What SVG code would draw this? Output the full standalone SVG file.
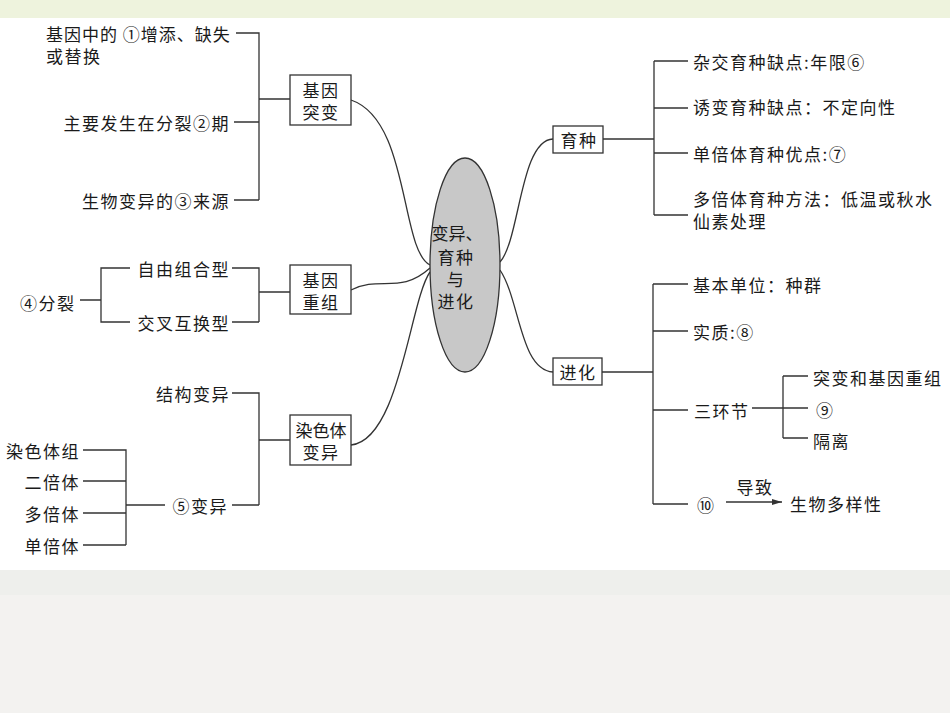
<svg xmlns="http://www.w3.org/2000/svg" width="950" height="713" viewBox="0 0 950 713">
<style>
text{font-family:"Noto Sans CJK SC","Liberation Sans",sans-serif;font-size:17px;letter-spacing:1.5px;fill:#1a1a1a;dominant-baseline:central}
.e{text-anchor:end}.m{text-anchor:middle}
.l{fill:none;stroke:#333;stroke-width:1.3}
.b{fill:#fff;stroke:#333;stroke-width:1.3}
</style>
<defs><marker id="a" viewBox="0 0 10 10" refX="10" refY="5" markerWidth="8" markerHeight="8" orient="auto"><path d="M0,2 L10,5 L0,8 z" fill="#333"/></marker></defs>
<rect width="950" height="713" fill="#fff"/>
<rect width="950" height="18" fill="#eef3dd"/>
<rect y="570" width="950" height="143" fill="#f3f2f0"/>
<rect y="570" width="950" height="25" fill="#eeefec"/>
<g id="connectors" class="l">
<path d="M236,33H259V200M234,122H259M234,200H259M259,99H290"/>
<path d="M232,268H259V322M232,322H259M259,292H290M130,268H101V322H130M80,300H101"/>
<path d="M232,393H259V505M232,505H259M259,440H291M83,450H126V545M83,481H126M83,513H126M83,545H126M126,505H165"/>
<path d="M351,100C410,120 400,250 430,265M351,290C380,275 400,295 430,268M351,445C400,440 410,300 430,272"/>
<path d="M500,262C520,240 520,140 553,139M500,270C520,300 520,370 553,372"/>
<path d="M603,139H654M654,61V215M654,61H688M654,108H688M654,153H688M654,215H688"/>
<path d="M602,372H653M653,284V504M653,284H688M653,331H688M653,410H688M653,504H688M752,408H808M783,376V438M783,376H808M783,438H808"/>
<path d="M726,502H782" marker-end="url(#a)"/>
</g>
<g id="center"><ellipse cx="465" cy="265" rx="35" ry="107" fill="#c8c8c8" stroke="#333" stroke-width="1.3"/>
<text x="457" y="232" class="m" style="letter-spacing:0">变异、</text><text x="456" y="256" class="m">育种</text><text x="456" y="278" class="m">与</text><text x="456" y="300" class="m">进化</text></g>
<g id="n1"><rect class="b" x="290" y="75" width="61" height="50"/><text x="321" y="89" class="m">基因</text><text x="321" y="111" class="m">突变</text></g>
<g id="n2"><rect class="b" x="290" y="265" width="61" height="49"/><text x="321" y="279" class="m">基因</text><text x="321" y="301" class="m">重组</text></g>
<g id="n3"><rect class="b" x="290" y="415" width="61" height="50"/><text x="321" y="429" class="m" style="letter-spacing:0">染色体</text><text x="321" y="451" class="m">变异</text></g>
<g id="n4"><rect class="b" x="553" y="126" width="50" height="27"/><text x="579" y="139" class="m">育种</text></g>
<g id="n5"><rect class="b" x="553" y="358" width="49" height="27"/><text x="578" y="371" class="m">进化</text></g>
<g id="labels">
<text x="46" y="33" style="letter-spacing:1px">基因中的 ①增添、缺失</text><text x="46" y="55">或替换</text>
<text x="230" y="122" class="e">主要发生在分裂②期</text>
<text x="230" y="200" class="e">生物变异的③来源</text>
<text x="230" y="268" class="e">自由组合型</text>
<text x="230" y="322" class="e">交叉互换型</text>
<text x="20" y="302">④分裂</text>
<text x="230" y="393" class="e">结构变异</text>
<text x="228" y="505" class="e">⑤变异</text>
<text x="80" y="450" class="e">染色体组</text><text x="80" y="481" class="e">二倍体</text><text x="80" y="513" class="e">多倍体</text><text x="80" y="545" class="e">单倍体</text>
<text x="693" y="61">杂交育种缺点:年限⑥</text>
<text x="693" y="106">诱变育种缺点：不定向性</text>
<text x="693" y="153">单倍体育种优点:⑦</text>
<text x="693" y="198">多倍体育种方法：低温或秋水</text><text x="693" y="220">仙素处理</text>
<text x="693" y="284">基本单位：种群</text>
<text x="693" y="331">实质:⑧</text>
<text x="694" y="410">三环节</text>
<text x="813" y="377">突变和基因重组</text><text x="816" y="409">⑨</text><text x="813" y="440">隔离</text>
<text x="697" y="504">⑩</text><text x="755" y="486" class="m">导致</text><text x="790" y="503">生物多样性</text>
</g>
</svg>
